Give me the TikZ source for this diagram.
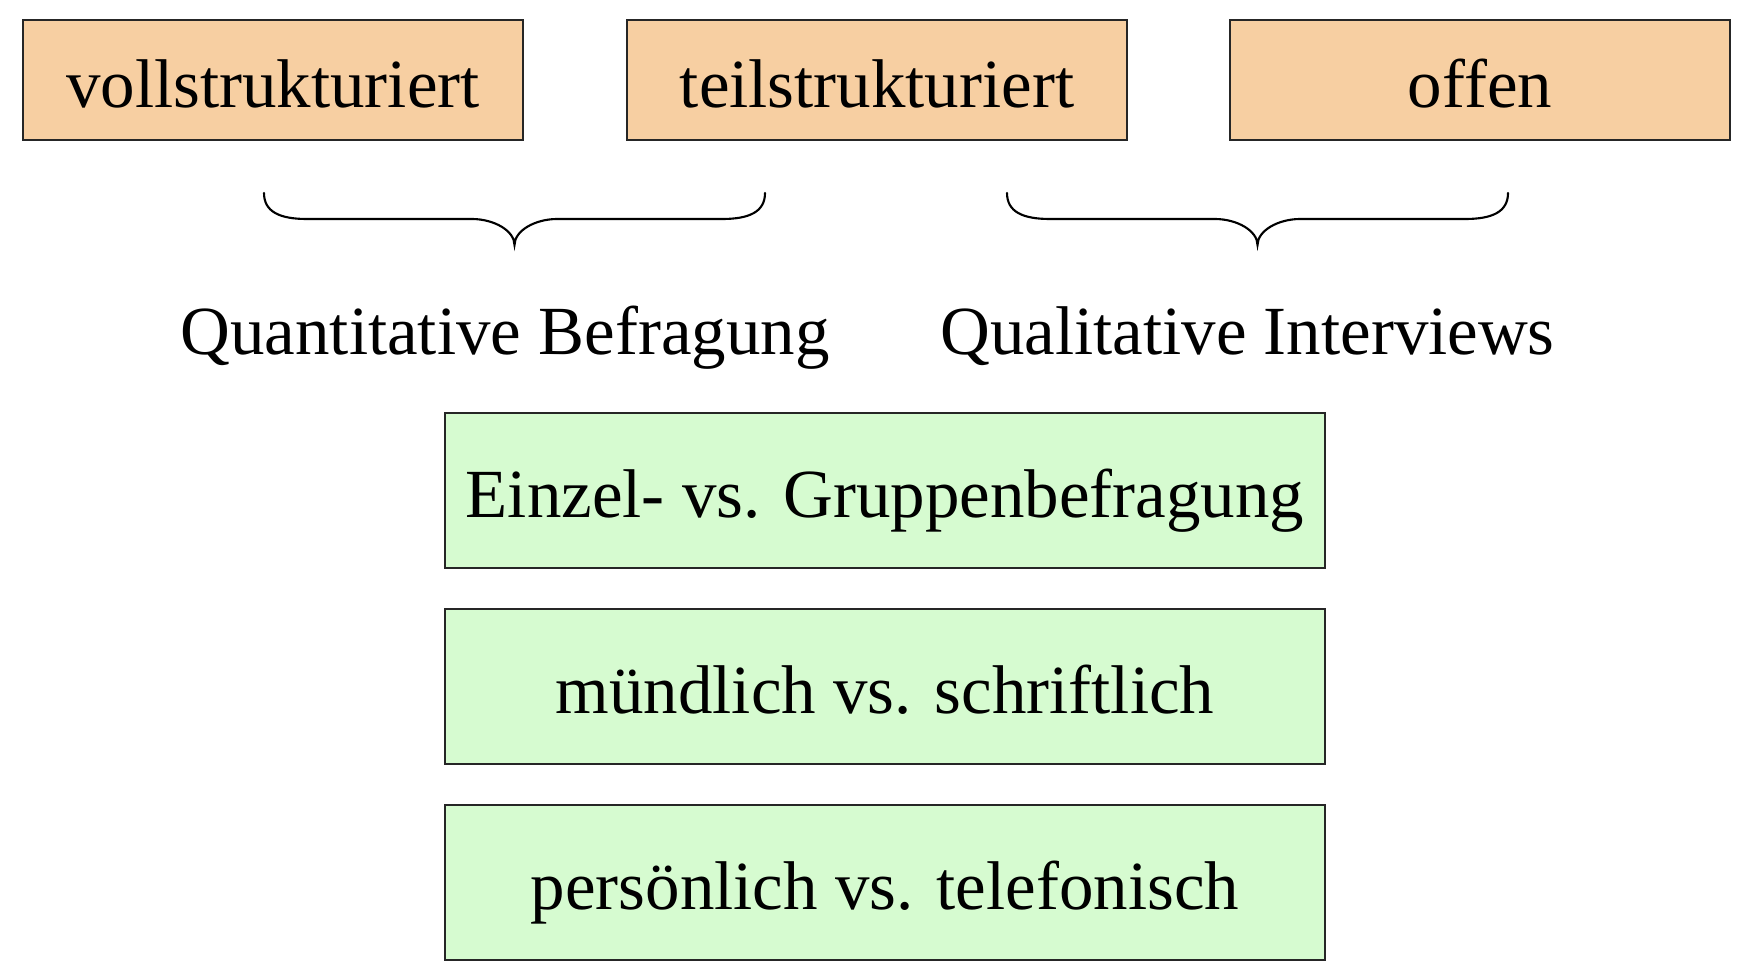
\documentclass[tikz,border=0pt]{standalone}
\usepackage{fontspec}
\setmainfont{Liberation Serif}
\definecolor{kindfill}{HTML}{F7CFA2}
\definecolor{modefill}{HTML}{D6FBD0}
\begin{document}
\begin{tikzpicture}[x=0.01cm,y=-0.01cm,
  every node/.style={font=\fontsize{19.6}{24}\selectfont, inner sep=0pt},
  kindbox/.style={draw=black!85, line width=0.6pt, fill=kindfill,
    minimum width=5cm, minimum height=1.2cm, text height=0.54cm, text depth=0pt},
  modebox/.style={draw=black!85, line width=0.6pt, fill=modefill,
    minimum width=8.8cm, minimum height=1.55cm, text height=0.53cm, text depth=0pt},
  grouplabel/.style={anchor=base},
  bracepath/.style={line width=0.6pt, line cap=round}]
\useasboundingbox (0,0) rectangle (1746,980);

% structuring levels
\node[kindbox] (voll) at (273,80) {vollstrukturiert};
\node[kindbox] (teil) at (877,80) {teilstrukturiert};
\node[kindbox] (offen) at (1480,80) {offen};

% braces grouping the levels
\coordinate (b1l) at (264,193);
\coordinate (b1r) at (765,193);
\coordinate (b1t) at (514.5,245);
\coordinate (b2l) at (1007,193);
\coordinate (b2r) at (1508,193);
\coordinate (b2t) at (1257.5,245);

\foreach \l/\r/\t in {b1l/b1r/b1t, b2l/b2r/b2t}{
  \draw[bracepath] (\l) .. controls ([yshift=-0.19cm]\l) and ([xshift=0.16cm,yshift=-0.26cm]\l) .. ([xshift=0.43cm,yshift=-0.26cm]\l)
    -- ([xshift=-0.43cm,yshift=0.26cm]\t)
    .. controls ([xshift=-0.2cm,yshift=0.26cm]\t) and ([yshift=0.14cm]\t) .. (\t)
    .. controls ([yshift=0.14cm]\t) and ([xshift=0.2cm,yshift=0.26cm]\t) .. ([xshift=0.43cm,yshift=0.26cm]\t)
    -- ([xshift=-0.43cm,yshift=-0.26cm]\r)
    .. controls ([xshift=-0.16cm,yshift=-0.26cm]\r) and ([yshift=-0.19cm]\r) .. (\r);
}

% group labels
\node[grouplabel] (quant) at (505,355) {Quantitative Befragung};
\node[grouplabel] (qual) at (1247.5,355) {Qualitative Interviews};

% survey modes
\node[modebox] (einzel) at (885,490.5) {Einzel- vs. Gruppenbefragung};
\node[modebox] (muend) at (885,686.5) {mündlich vs. schriftlich};
\node[modebox] (pers) at (885,882.5) {persönlich vs. telefonisch};
\end{tikzpicture}
\end{document}
